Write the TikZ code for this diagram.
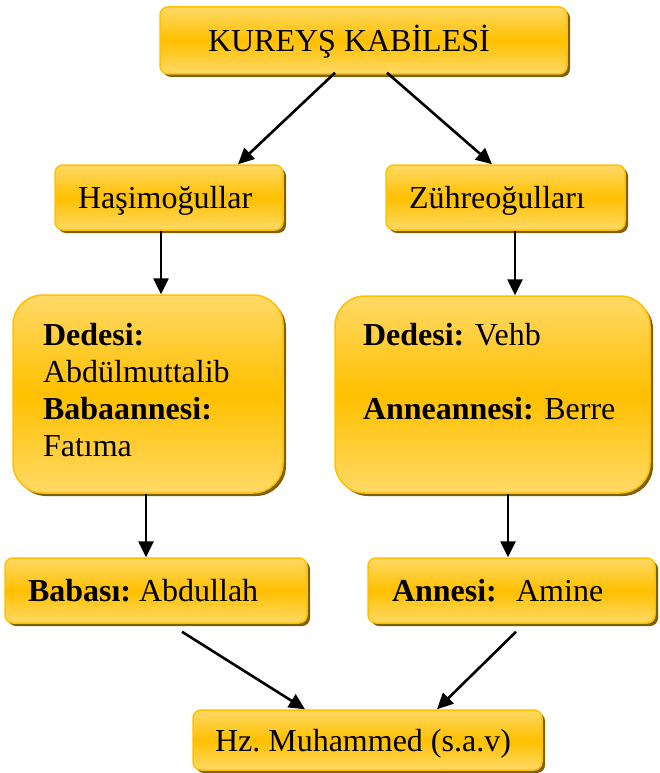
\documentclass[tikz,border=0pt]{standalone}
\usepackage{fontspec}
\setmainfont{Liberation Serif}
\usetikzlibrary{arrows.meta,shadows}

\definecolor{acik}{HTML}{FFD966}
\definecolor{altin}{HTML}{FFC000}
\definecolor{golge}{HTML}{7F6000}

% one line of text, left aligned in a box of fixed width
\newcommand{\satir}[2]{\makebox[#1][l]{#2}}

\tikzset{
  kutu/.style={draw=altin, line width=1.5pt, rounded corners=8pt,
    top color=acik, bottom color=acik, middle color=altin,
    drop shadow={shadow xshift=3pt, shadow yshift=-3pt, fill=golge, opacity=1},
    inner ysep=0pt, font=\fontsize{32}{37}\selectfont\frenchspacing},
  tek/.style={text height=24pt, text depth=1.6pt},
  ok/.style={line width=2.6pt, -{Triangle[length=16pt,width=15pt]}}
}

\begin{document}
\begin{tikzpicture}[x=1pt,y=-1pt]
  \useasboundingbox (0,0) rectangle (659,773);

  %boxes
  \node[kutu,tek,minimum width=407pt,minimum height=67pt,inner xsep=48pt] (ust) at (363.5,40.5) {\satir{311pt}{KUREYŞ KABİLESİ}};

  \node[kutu,tek,minimum width=228pt,minimum height=65pt,inner xsep=23pt] (hasim) at (169,197.5) {\satir{182pt}{Haşimoğullar}};
  \node[kutu,tek,minimum width=239pt,minimum height=65pt,inner xsep=23pt] (zuhre) at (505.5,197.5) {\satir{193pt}{Zühreoğulları}};

  \node[kutu,rounded corners=30pt,minimum width=270pt,minimum height=198pt,align=left,text width=210pt,inner xsep=30pt,text depth=120pt] (dedeSol) at (148,394)
    {\textbf{Dedesi:}\\ Abdülmuttalib\\ \textbf{Babaannesi:}\\ Fatıma};
  \node[kutu,rounded corners=30pt,minimum width=315pt,minimum height=197pt,align=left,text width=259pt,inner xsep=28pt,text depth=121pt] (dedeSag) at (492.5,394.5)
    {\textbf{Dedesi:} Vehb\\[37pt] \textbf{Anneannesi:} Berre};

  \node[kutu,tek,minimum width=302pt,minimum height=65pt,inner xsep=23pt] (baba) at (156,590.5) {\satir{256pt}{\textbf{Babası:} Abdullah}};
  \node[kutu,tek,minimum width=287pt,minimum height=65pt,inner xsep=24pt] (anne) at (511.5,590.5) {\satir{239pt}{\textbf{Annesi:}\hspace{0.6em}Amine}};

  \node[kutu,tek,minimum width=349pt,minimum height=60pt,inner xsep=22pt] (hz) at (367.5,740) {\satir{305pt}{Hz. Muhammed (s.a.v)}};

  %arrows
  \draw[ok] ([xshift=-28.5pt,yshift=2pt]ust.south) -- ([xshift=69pt]hasim.north);
  \draw[ok] ([xshift=23.5pt,yshift=2pt]ust.south) -- ([xshift=-13.5pt]zuhre.north);

  \draw[ok] ([xshift=-8pt]hasim.south) -- ([xshift=-8pt]hasim.south |- dedeSol.north);
  \draw[ok] ([xshift=9.5pt]zuhre.south) -- ([xshift=9.5pt]zuhre.south |- dedeSag.north);

  \draw[ok] ([xshift=-2pt]dedeSol.south) -- ([xshift=-2pt]dedeSol.south |- baba.north);
  \draw[ok] ([xshift=15.5pt]dedeSag.south) -- ([xshift=15.5pt]dedeSag.south |- anne.north);

  \draw[ok] ([xshift=26pt,yshift=-8pt]baba.south) -- ([xshift=-62.5pt]hz.north);
  \draw[ok] ([xshift=4.5pt,yshift=-8pt]anne.south) -- ([xshift=69.5pt]hz.north);
\end{tikzpicture}
\end{document}
